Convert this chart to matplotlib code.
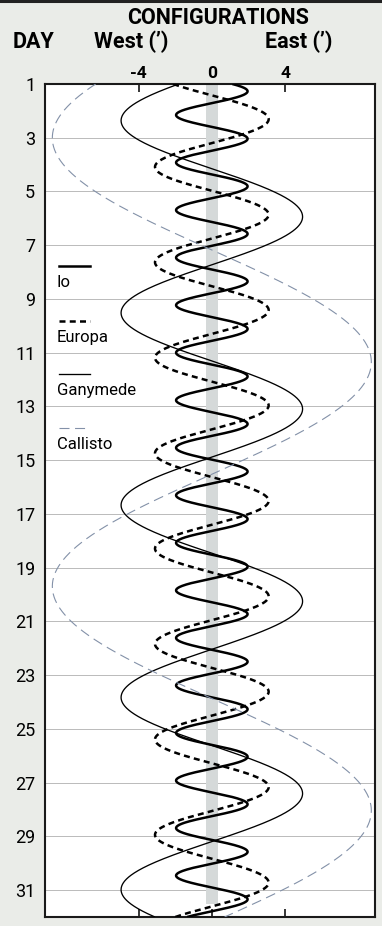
import numpy as np
import matplotlib
matplotlib.use("Agg")
import matplotlib.pyplot as plt

# elongation curves of the Galilean moons (arcmin east of Jupiter, by day)
moons = ["Io", "Europa", "Ganymede", "Callisto"]
max_elong = [1.95, 3.1, 4.95, 8.7]          # arcmin
period_days = [1.769, 3.551, 7.155, 16.69]
east_elong_day = [1.27, 2.31, 5.94, 11.35]  # day of greatest eastern elongation

day_ticks = list(range(1, 32, 2))
arcmin_ticks = [-4, 0, 4]

plt.rcParams["font.family"] = ["Roboto", "DejaVu Sans"]

styles = {
    "Io": dict(color="black", lw=1.8, ls="-"),
    "Europa": dict(color="black", lw=1.8, ls=(0, (2.4, 1.7))),
    "Ganymede": dict(color="black", lw=0.95, ls="-"),
    "Callisto": dict(color="#8391a8", lw=0.8, ls=(0, (9, 5))),
}

W, H = 382, 926
fig = plt.figure(figsize=(W / 100, H / 100), dpi=100, facecolor="#eaece8")
ax = fig.add_axes([45 / W, 1 - 917 / H, 330 / W, 833 / H])
ax.set_facecolor("white")

ax.set_xlim(-9.1, 8.9)
ax.set_ylim(32, 1)

# Jupiter's disk
ax.fill_betweenx([1, 31.5], -0.33, 0.33, color="#d5d9d9", lw=0, zorder=1)

days = np.linspace(1, 32, 3000)
for name, a, p, t0 in zip(moons, max_elong, period_days, east_elong_day):
    x = a * np.cos(2 * np.pi * (days - t0) / p)
    ax.plot(x, days, zorder=3, solid_capstyle="butt", dash_capstyle="butt", **styles[name])

# key: short line sample above each name
key_day = [7.76, 9.81, 11.79, 13.79]
for name, d in zip(moons, key_day):
    ax.plot([-8.35, -6.66], [d, d], dash_capstyle="butt", zorder=4, **styles[name])
    ax.text(-8.45, d + 0.8, name, fontsize=12, va="baseline", ha="left", zorder=4)

ax.set_yticks(day_ticks)
ax.set_yticklabels([str(d) for d in day_ticks], fontsize=13)
ax.tick_params(axis="y", length=0, pad=7)
ax.grid(axis="y", color="#b0b0b0", lw=0.6)
ax.set_axisbelow(True)

ax.set_xticks(arcmin_ticks)
ax.set_xticklabels([str(v) for v in arcmin_ticks], fontsize=12.5, fontweight="bold")
ax.tick_params(axis="x", top=True, bottom=True, labeltop=True, labelbottom=False,
               direction="in", length=6, width=1.1, pad=2)

for s in ax.spines.values():
    s.set_linewidth(1.5)
    s.set_color("#1a1a1a")

# header
fig.text(218 / W, 1 - 18 / H, "CONFIGURATIONS", fontsize=15.5, fontweight="bold",
         ha="center", va="center")
fig.text(33 / W, 1 - 42 / H, "DAY", fontsize=15.5, fontweight="bold", ha="center", va="center")
fig.text(131 / W, 1 - 42 / H, "West (\u2019)", fontsize=15.5, fontweight="bold",
         ha="center", va="center")
fig.text(299 / W, 1 - 42 / H, "East (\u2019)", fontsize=15.5, fontweight="bold",
         ha="center", va="center")

# dark rule along the top edge
fig.add_artist(plt.Line2D([0, 1], [1 - 1 / H, 1 - 1 / H], color="#222222", lw=2.2,
                          transform=fig.transFigure))

fig.savefig("out.png", dpi=100, facecolor=fig.get_facecolor())
